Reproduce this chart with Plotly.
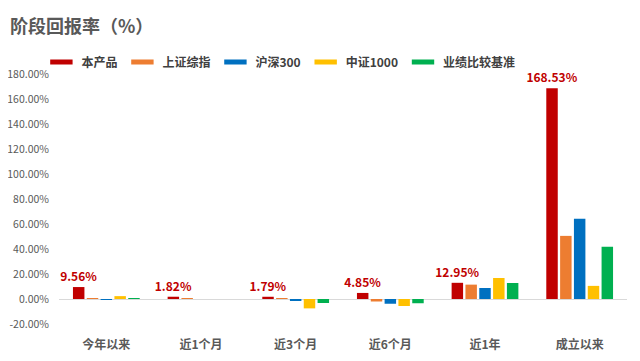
import plotly.graph_objects as go

categories = ["今年以来", "近1个月", "近3个月", "近6个月", "近1年", "成立以来"]
series_names = ["本产品", "上证综指", "沪深300", "中证1000", "业绩比较基准"]
product = [9.56, 1.82, 1.79, 4.85, 12.95, 168.53]
sse = [0.7, 0.6, 0.6, -2.0, 11.5, 50.5]
csi300 = [-0.8, 0.0, -1.0, -3.8, 8.8, 64.2]
csi1000 = [2.3, 0.0, -7.5, -5.6, 16.8, 10.5]
benchmark = [0.8, 0.0, -3.2, -3.4, 12.8, 41.8]
colors = ["#C00000", "#ED7D31", "#0070C0", "#FFC000", "#00B050"]
yticks = [-20, 0, 20, 40, 60, 80, 100, 120, 140, 160, 180]

font = "Noto Sans CJK SC, Microsoft YaHei, sans-serif"
fig = go.Figure()
all_vals = [product, sse, csi300, csi1000, benchmark]
for i, (name, vals) in enumerate(zip(series_names, all_vals)):
    kw = {}
    if i == 0:
        kw = dict(text=[f"{v:.2f}%" for v in vals], textposition="outside",
                  constraintext="none", textangle=0,
                  textfont=dict(color="#C00000", size=12, family=font, weight="bold"),
                  cliponaxis=False)
    fig.add_trace(go.Bar(x=categories, y=vals, name=name, marker_color=colors[i],
                         marker_line_width=0, showlegend=False, **kw))

# legend entries with wide flat swatches (as in the reference)
for name, c in zip(series_names, colors):
    fig.add_trace(go.Scatter(x=[None], y=[None], mode="markers", name=name,
                             marker=dict(symbol="line-ew", size=18, color=c,
                                         line=dict(color=c, width=6)),
                             hoverinfo="skip"))

# page body has an 8px default margin, so the figure is drawn 8px smaller
W, H = 632, 353
fig.update_layout(
    width=W, height=H,
    margin=dict(l=51, r=13, t=66, b=37, autoexpand=False),
    paper_bgcolor="white", plot_bgcolor="white",
    barmode="group", bargap=0.27, bargroupgap=0.17,
    font=dict(family=font, color="#595959"),
    title=dict(text="<b>阶段回报率（%）</b>", x=0.0, xanchor="left",
               y=1 - 19 / H, yanchor="middle",
               pad=dict(l=2), font=dict(size=18, color="#595959", family=font)),
    legend=dict(orientation="h", x=-0.031, xanchor="left",
                y=1.048, yanchor="middle", bgcolor="rgba(0,0,0,0)",
                font=dict(size=12, color="#404040", family=font, weight="bold"),
                itemwidth=30, traceorder="normal"),
    showlegend=True,
)
fig.update_xaxes(showgrid=False, showline=False, ticks="outside", ticklen=10, tickcolor="white",
                 automargin=False,
                 tickfont=dict(size=12, color="#595959", family=font, weight="bold"))
fig.update_yaxes(range=[-20, 180], tickvals=yticks, ticktext=[f"{v:.2f}%" for v in yticks],
                 showgrid=False, zeroline=True, zerolinecolor="#D9D9D9", zerolinewidth=1,
                 automargin=False, ticklabelstandoff=9,
                 tickfont=dict(size=10.5, color="#595959", family=font))
fig.write_html("out.html")
